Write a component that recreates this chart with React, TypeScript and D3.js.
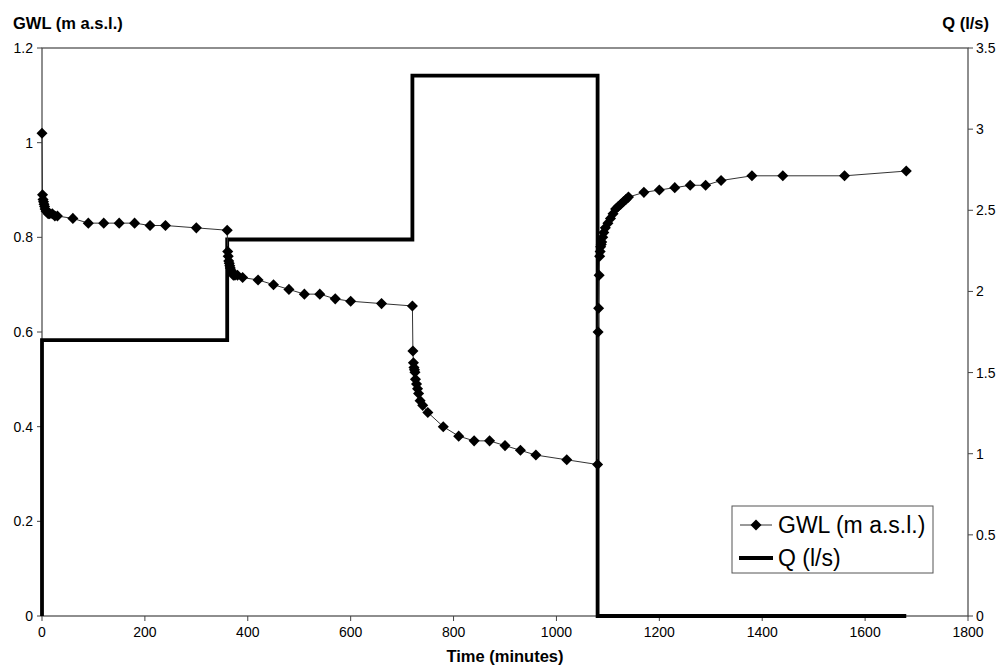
import React from "react";
import * as d3 from "d3";

// GWL readings (time in minutes, level in m a.s.l.)
const gwlTime = [
  0, 1, 2, 3, 4, 5, 6, 8, 10, 12, 15, 20, 25, 30, 60, 90, 120, 150, 180, 210, 240, 300, 360,
  361, 362, 363, 364, 365, 366, 368, 370, 372, 375, 380, 390, 420, 450, 480, 510, 540, 570, 600, 660, 720,
  721, 722, 723, 724, 725, 726, 728, 730, 732, 735, 740, 750, 780, 810, 840, 870, 900, 930, 960, 1020, 1080,
  1081, 1082, 1083, 1084, 1085, 1086, 1087, 1088, 1090, 1092, 1095, 1100, 1105, 1110, 1115, 1120, 1125, 1130, 1135, 1140,
  1170, 1200, 1230, 1260, 1290, 1320, 1380, 1440, 1560, 1680,
];
const gwlLevel = [
  1.02, 0.89, 0.88, 0.875, 0.87, 0.865, 0.86, 0.855, 0.855, 0.85, 0.85, 0.85, 0.845, 0.845, 0.84, 0.83, 0.83, 0.83, 0.83, 0.825, 0.825, 0.82, 0.815,
  0.77, 0.76, 0.75, 0.745, 0.74, 0.735, 0.73, 0.725, 0.72, 0.72, 0.72, 0.715, 0.71, 0.7, 0.69, 0.68, 0.68, 0.67, 0.665, 0.66, 0.655,
  0.56, 0.535, 0.525, 0.52, 0.515, 0.5, 0.49, 0.48, 0.47, 0.455, 0.445, 0.43, 0.4, 0.38, 0.37, 0.37, 0.36, 0.35, 0.34, 0.33, 0.32,
  0.6, 0.65, 0.72, 0.76, 0.77, 0.78, 0.785, 0.79, 0.8, 0.81, 0.82, 0.83, 0.84, 0.85, 0.86, 0.865, 0.87, 0.875, 0.88, 0.885,
  0.895, 0.9, 0.905, 0.91, 0.91, 0.92, 0.93, 0.93, 0.93, 0.94,
];

// pumping rate steps (l/s)
const qTime = [0, 0, 360, 720, 1080, 1680];
const qRate = [0, 1.7, 2.32, 3.33, 0, 0];

const xTicks = [0, 200, 400, 600, 800, 1000, 1200, 1400, 1600, 1800];
const leftTicks = [0, 0.2, 0.4, 0.6, 0.8, 1, 1.2];
const rightTicks = [0, 0.5, 1, 1.5, 2, 2.5, 3, 3.5];

const W = 997;
const H = 666;
const font = "'Liberation Sans', Arial, sans-serif";
const axisColor = "#444";

const App = () => {
  const x = d3.scaleLinear().domain([0, 1800]).range([42, 968]);
  const yL = d3.scaleLinear().domain([0, 1.2]).range([616, 48]);
  const yR = d3.scaleLinear().domain([0, 3.5]).range([616, 48]);

  const gwl = gwlTime.map((t, i) => ({ t, v: gwlLevel[i] }));
  const q = qTime.map((t, i) => ({ t, v: qRate[i] }));

  const gwlLine = d3
    .line<{ t: number; v: number }>()
    .x((d) => x(d.t))
    .y((d) => yL(d.v));
  const qLine = d3
    .line<{ t: number; v: number }>()
    .x((d) => x(d.t))
    .y((d) => yR(d.v))
    .curve(d3.curveStepAfter);

  const diamond = d3.symbol().type(d3.symbolDiamond2).size(78)();

  return (
    <div style={{ position: "absolute", left: 0, top: 0 }}>
      <svg width={W} height={H} style={{ display: "block", background: "#fff" }} fontFamily={font}>
        {/* frame */}
        <rect x={42} y={48} width={926} height={568} fill="none" stroke={axisColor} strokeWidth={1.2} />

        {/* x axis */}
        {xTicks.map((t) => (
          <g key={"x" + t}>
            <line x1={x(t)} x2={x(t)} y1={616} y2={621} stroke={axisColor} />
            <text x={x(t)} y={637} textAnchor="middle" fontSize={14}>
              {t}
            </text>
          </g>
        ))}
        {/* left axis */}
        {leftTicks.map((t) => (
          <g key={"l" + t}>
            <line x1={37} x2={42} y1={yL(t)} y2={yL(t)} stroke={axisColor} />
            <text x={33} y={yL(t) + 5} textAnchor="end" fontSize={14}>
              {t}
            </text>
          </g>
        ))}
        {/* right axis */}
        {rightTicks.map((t) => (
          <g key={"r" + t}>
            <line x1={968} x2={973} y1={yR(t)} y2={yR(t)} stroke={axisColor} />
            <text x={976} y={yR(t) + 5} textAnchor="start" fontSize={14}>
              {t}
            </text>
          </g>
        ))}

        {/* titles */}
        <text x={13} y={29} fontSize={16.5} fontWeight="bold">
          GWL (m a.s.l.)
        </text>
        <text x={989} y={29} fontSize={16.5} fontWeight="bold" textAnchor="end">
          Q (l/s)
        </text>
        <text x={505} y={662} fontSize={16.5} fontWeight="bold" textAnchor="middle">
          Time (minutes)
        </text>

        {/* Q step line */}
        <path d={qLine(q) || ""} fill="none" stroke="#000" strokeWidth={3.8} />

        {/* GWL line + markers */}
        <path d={gwlLine(gwl) || ""} fill="none" stroke="#333" strokeWidth={1} />
        {gwl.map((d, i) => (
          <path key={"m" + i} d={diamond || ""} transform={`translate(${x(d.t)},${yL(d.v)})`} fill="#000" />
        ))}

        {/* legend */}
        <rect x={732} y={506} width={201} height={67} fill="#fff" stroke="#555" strokeWidth={1} />
        <line x1={740} x2={772} y1={525} y2={525} stroke="#333" strokeWidth={1} />
        <path d={diamond || ""} transform="translate(756,525)" fill="#000" />
        <text x={778} y={533} fontSize={23}>
          GWL (m a.s.l.)
        </text>
        <line x1={739} x2={773} y1={558} y2={558} stroke="#000" strokeWidth={3.8} />
        <text x={778} y={566} fontSize={23}>
          Q (l/s)
        </text>
      </svg>
    </div>
  );
};

export default App;
